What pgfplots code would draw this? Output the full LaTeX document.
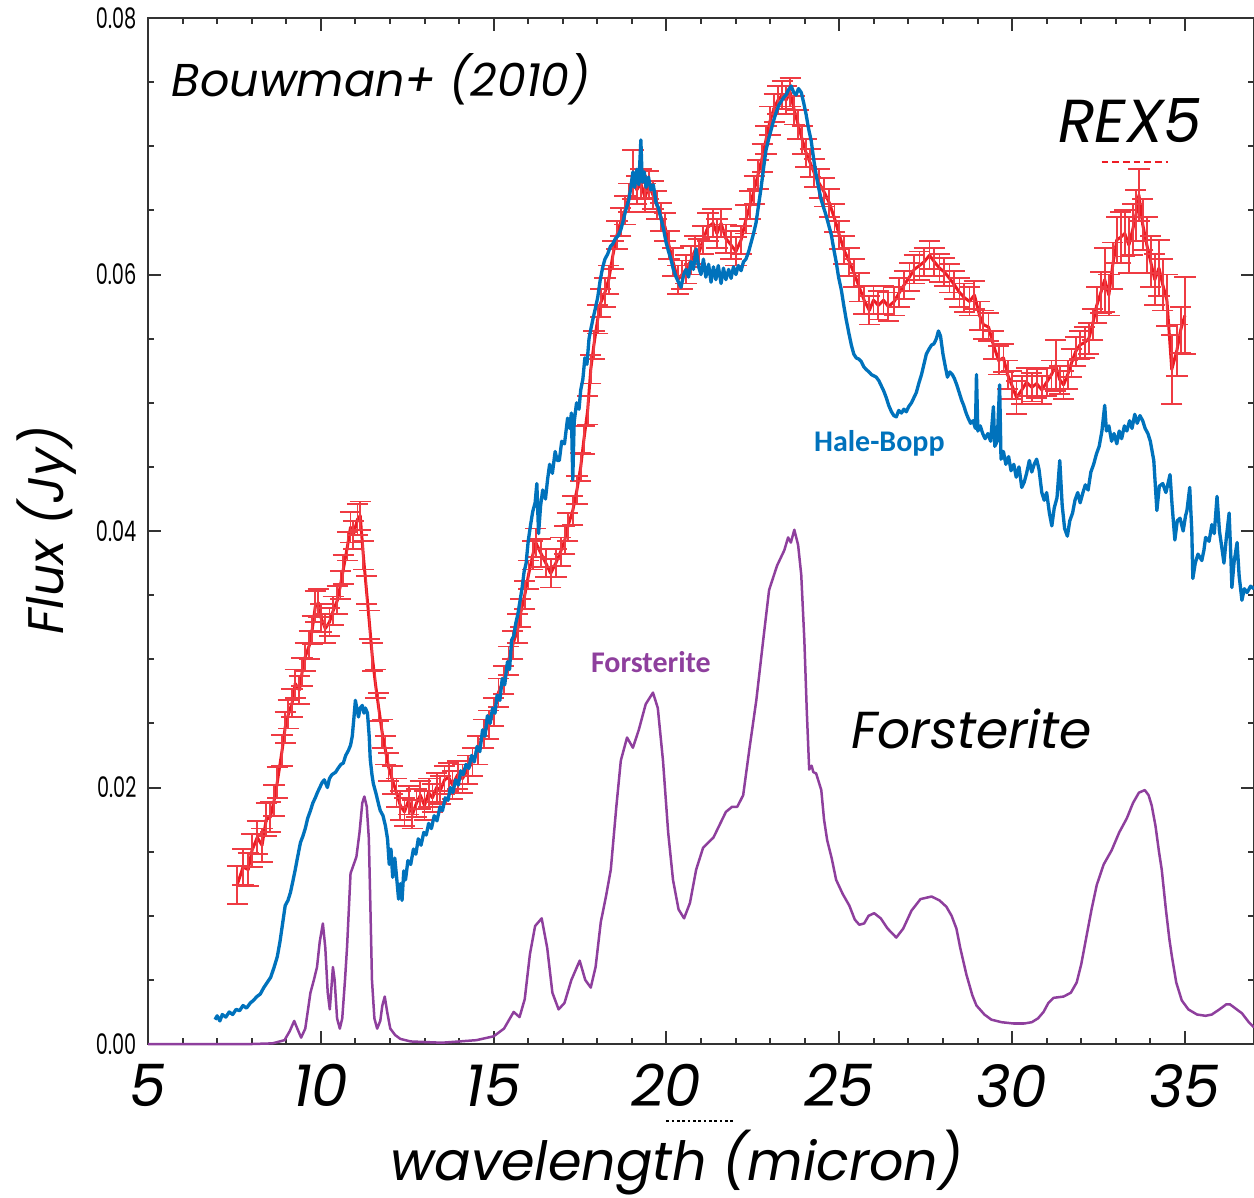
\documentclass[border=0pt]{standalone}
\usepackage{pgfplots}
\usepackage{pgfplotstable}
\pgfplotsset{compat=1.18}
\usepackage{fontspec}
\setmainfont{Poppins}
\newfontfamily\labfont{Carlito}
\definecolor{rexred}{HTML}{ED1C24}
\definecolor{barred}{HTML}{EF3B43}
\definecolor{hbblue}{HTML}{0072BC}
\definecolor{forpurple}{HTML}{8E3F9D}
\definecolor{axisgray}{HTML}{333333}

% REX5 (Spitzer IRS), flux and error
\pgfplotstableread{
x y e
7.58 0.0124 0.0015
7.75 0.0138 0.0014
7.90 0.0136 0.0013
8.01 0.0151 0.0013
8.16 0.0161 0.0013
8.30 0.0155 0.0013
8.42 0.0175 0.0013
8.54 0.0177 0.0012
8.65 0.0190 0.0012
8.74 0.0204 0.0012
8.88 0.0229 0.0012
8.97 0.0247 0.0012
9.06 0.0257 0.0011
9.17 0.0266 0.0011
9.26 0.0281 0.0011
9.38 0.0276 0.0011
9.46 0.0290 0.0011
9.55 0.0302 0.0011
9.67 0.0311 0.0011
9.75 0.0323 0.0011
9.84 0.0341 0.0012
9.93 0.0344 0.0011
10.01 0.0332 0.0011
10.13 0.0324 0.0011
10.25 0.0329 0.0011
10.36 0.0338 0.0011
10.48 0.0346 0.0011
10.57 0.0358 0.0011
10.65 0.0370 0.0011
10.77 0.0388 0.0011
10.86 0.0403 0.0012
10.94 0.0397 0.0011
11.06 0.0409 0.0012
11.14 0.0412 0.0011
11.23 0.0381 0.0011
11.32 0.0354 0.0011
11.41 0.0327 0.0011
11.49 0.0302 0.0011
11.58 0.0281 0.0011
11.67 0.0263 0.0011
11.78 0.0242 0.0011
11.87 0.0229 0.0011
11.96 0.0216 0.0011
12.07 0.0206 0.0011
12.19 0.0196 0.0011
12.30 0.0186 0.0011
12.42 0.0181 0.0011
12.54 0.0190 0.0011
12.65 0.0179 0.0011
12.77 0.0188 0.0011
12.88 0.0194 0.0011
13.00 0.0186 0.0011
13.12 0.0196 0.0011
13.23 0.0192 0.0011
13.35 0.0200 0.0011
13.46 0.0198 0.0011
13.58 0.0206 0.0011
13.70 0.0208 0.0011
13.81 0.0202 0.0011
13.96 0.0210 0.0011
14.10 0.0207 0.0011
14.25 0.0214 0.0011
14.39 0.0220 0.0011
14.54 0.0229 0.0011
14.71 0.0242 0.0011
14.86 0.0249 0.0011
15.00 0.0259 0.0011
15.14 0.0274 0.0011
15.29 0.0284 0.0011
15.43 0.0299 0.0011
15.55 0.0311 0.0011
15.70 0.0324 0.0011
15.78 0.0336 0.0011
15.90 0.0350 0.0011
16.01 0.0366 0.0011
16.13 0.0381 0.0011
16.22 0.0391 0.0011
16.36 0.0383 0.0011
16.51 0.0375 0.0011
16.65 0.0367 0.0011
16.80 0.0375 0.0011
16.94 0.0384 0.0011
17.06 0.0393 0.0011
17.14 0.0403 0.0011
17.29 0.0416 0.0011
17.41 0.0432 0.0011
17.52 0.0450 0.0011
17.61 0.0471 0.0011
17.72 0.0494 0.0011
17.81 0.0526 0.0011
17.90 0.0545 0.0011
18.01 0.0565 0.0011
18.10 0.0578 0.0011
18.22 0.0586 0.0011
18.33 0.0596 0.0011
18.45 0.0615 0.0011
18.57 0.0631 0.0011
18.68 0.0641 0.0011
18.80 0.0650 0.0011
18.91 0.0660 0.0011
19.03 0.0678 0.0019
19.14 0.0666 0.0011
19.26 0.0671 0.0011
19.38 0.0660 0.0011
19.49 0.0670 0.0011
19.61 0.0662 0.0011
19.72 0.0654 0.0011
19.84 0.0645 0.0011
19.96 0.0637 0.0011
20.07 0.0623 0.0011
20.19 0.0610 0.0011
20.33 0.0596 0.0011
20.45 0.0600 0.0011
20.57 0.0604 0.0011
20.71 0.0611 0.0011
20.83 0.0619 0.0011
20.94 0.0617 0.0011
21.06 0.0627 0.0011
21.20 0.0637 0.0011
21.35 0.0640 0.0011
21.46 0.0632 0.0011
21.58 0.0640 0.0011
21.72 0.0628 0.0011
21.87 0.0623 0.0011
22.01 0.0618 0.0011
22.16 0.0627 0.0011
22.30 0.0643 0.0011
22.42 0.0654 0.0011
22.54 0.0666 0.0011
22.65 0.0678 0.0011
22.77 0.0691 0.0011
22.88 0.0705 0.0011
23.00 0.0720 0.0011
23.12 0.0730 0.0011
23.23 0.0736 0.0011
23.35 0.0740 0.0011
23.46 0.0736 0.0011
23.58 0.0742 0.0011
23.70 0.0728 0.0011
23.81 0.0717 0.0011
23.93 0.0705 0.0011
24.04 0.0695 0.0011
24.16 0.0687 0.0011
24.28 0.0679 0.0011
24.42 0.0671 0.0011
24.57 0.0664 0.0011
24.71 0.0656 0.0011
24.86 0.0644 0.0011
25.00 0.0631 0.0011
25.14 0.0619 0.0011
25.29 0.0610 0.0011
25.43 0.0601 0.0011
25.58 0.0590 0.0011
25.72 0.0580 0.0011
25.87 0.0572 0.0011
25.99 0.0580 0.0011
26.13 0.0576 0.0011
26.28 0.0580 0.0011
26.42 0.0575 0.0011
26.59 0.0579 0.0011
26.74 0.0586 0.0011
26.88 0.0592 0.0011
27.03 0.0598 0.0011
27.17 0.0604 0.0011
27.32 0.0607 0.0011
27.46 0.0610 0.0011
27.61 0.0615 0.0011
27.75 0.0610 0.0011
27.90 0.0605 0.0011
28.04 0.0602 0.0011
28.19 0.0597 0.0011
28.33 0.0592 0.0011
28.48 0.0586 0.0011
28.62 0.0582 0.0011
28.77 0.0579 0.0011
28.91 0.0584 0.0011
29.06 0.0568 0.0011
29.17 0.0561 0.0011
29.32 0.0559 0.0011
29.46 0.0545 0.0011
29.61 0.0533 0.0011
29.75 0.0535 0.0011
29.87 0.0522 0.0011
29.99 0.0514 0.0011
30.13 0.0504 0.0013
30.28 0.0510 0.0011
30.42 0.0516 0.0011
30.57 0.0512 0.0011
30.71 0.0515 0.0011
30.86 0.0510 0.0011
31.00 0.0516 0.0011
31.14 0.0522 0.0011
31.26 0.0529 0.0020
31.38 0.0518 0.0011
31.49 0.0514 0.0011
31.61 0.0522 0.0011
31.72 0.0531 0.0011
31.84 0.0540 0.0011
31.96 0.0545 0.0011
32.10 0.0547 0.0012
32.22 0.0550 0.0012
32.33 0.0561 0.0012
32.45 0.0576 0.0014
32.57 0.0586 0.0016
32.68 0.0596 0.0025
32.80 0.0584 0.0016
32.91 0.0607 0.0018
33.03 0.0627 0.0018
33.14 0.0629 0.0020
33.26 0.0632 0.0018
33.38 0.0623 0.0022
33.49 0.0635 0.0020
33.58 0.0646 0.0020
33.67 0.0662 0.0020
33.78 0.0639 0.0020
33.90 0.0623 0.0022
34.01 0.0610 0.0020
34.13 0.0596 0.0020
34.25 0.0605 0.0022
34.36 0.0592 0.0020
34.48 0.0580 0.0020
34.62 0.0526 0.0027
34.77 0.0541 0.0020
34.88 0.0557 0.0018
35.00 0.0568 0.0030
}\rexdata

% Hale-Bopp (ISO SWS)
\pgfplotstableread{
x y
6.94 0.0019
7.00 0.0022
7.08 0.0018
7.15 0.0023
7.25 0.0021
7.35 0.0025
7.45 0.0023
7.55 0.0027
7.65 0.0026
7.75 0.0030
7.85 0.0028
7.96 0.0032
8.05 0.0034
8.15 0.0037
8.25 0.0039
8.35 0.0044
8.45 0.0048
8.55 0.0052
8.65 0.0060
8.74 0.0068
8.82 0.0080
8.90 0.0095
8.97 0.0108
9.05 0.0112
9.12 0.0118
9.20 0.0128
9.26 0.0136
9.33 0.0146
9.41 0.0157
9.48 0.0162
9.55 0.0168
9.62 0.0176
9.70 0.0182
9.77 0.0188
9.84 0.0192
9.90 0.0196
9.97 0.0200
10.04 0.0204
10.10 0.0206
10.19 0.0200
10.25 0.0207
10.32 0.0210
10.43 0.0212
10.50 0.0215
10.58 0.0218
10.65 0.0219
10.72 0.0225
10.80 0.0229
10.86 0.0233
10.91 0.0240
10.96 0.0255
11.00 0.0268
11.04 0.0262
11.09 0.0255
11.14 0.0262
11.20 0.0264
11.25 0.0258
11.29 0.0262
11.35 0.0258
11.40 0.0240
11.43 0.0222
11.48 0.0210
11.52 0.0203
11.60 0.0195
11.68 0.0186
11.72 0.0182
11.80 0.0178
11.87 0.0170
11.93 0.0160
11.98 0.0140
12.03 0.0152
12.08 0.0130
12.14 0.0145
12.20 0.0128
12.25 0.0113
12.30 0.0125
12.35 0.0112
12.40 0.0135
12.45 0.0128
12.52 0.0143
12.60 0.0140
12.68 0.0152
12.75 0.0148
12.82 0.0160
12.90 0.0155
12.98 0.0165
13.05 0.0163
13.12 0.0172
13.20 0.0168
13.28 0.0178
13.36 0.0174
13.45 0.0185
13.52 0.0182
13.60 0.0192
13.68 0.0190
13.75 0.0200
13.82 0.0196
13.90 0.0206
13.98 0.0202
14.05 0.0213
14.12 0.0210
14.20 0.0218
14.28 0.0215
14.36 0.0225
14.44 0.0220
14.52 0.0232
14.60 0.0228
14.68 0.0245
14.75 0.0240
14.82 0.0256
14.90 0.0250
14.97 0.0262
15.04 0.0258
15.10 0.0272
15.18 0.0268
15.25 0.0285
15.32 0.0280
15.40 0.0298
15.46 0.0292
15.52 0.0315
15.58 0.0318
15.64 0.0328
15.70 0.0335
15.76 0.0345
15.82 0.0355
15.88 0.0368
15.94 0.0375
16.00 0.0392
16.07 0.0405
16.13 0.0415
16.20 0.0422
16.25 0.0437
16.30 0.0398
16.36 0.0420
16.42 0.0432
16.50 0.0425
16.56 0.0440
16.62 0.0452
16.70 0.0445
16.78 0.0462
16.84 0.0455
16.90 0.0455
16.97 0.0470
17.05 0.0468
17.14 0.0488
17.20 0.0480
17.25 0.0492
17.29 0.0440
17.33 0.0485
17.40 0.0500
17.47 0.0495
17.52 0.0510
17.58 0.0518
17.64 0.0535
17.70 0.0530
17.76 0.0550
17.81 0.0557
17.87 0.0565
17.93 0.0572
18.01 0.0582
18.08 0.0595
18.15 0.0605
18.22 0.0612
18.30 0.0616
18.38 0.0622
18.45 0.0624
18.52 0.0628
18.60 0.0630
18.68 0.0635
18.75 0.0642
18.82 0.0650
18.91 0.0658
18.97 0.0668
19.03 0.0680
19.08 0.0668
19.14 0.0682
19.20 0.0670
19.26 0.0705
19.30 0.0672
19.36 0.0680
19.41 0.0668
19.48 0.0676
19.55 0.0666
19.62 0.0670
19.70 0.0656
19.77 0.0652
19.84 0.0644
19.92 0.0635
19.99 0.0625
20.06 0.0618
20.13 0.0612
20.20 0.0604
20.28 0.0598
20.35 0.0594
20.42 0.0590
20.50 0.0600
20.57 0.0604
20.64 0.0598
20.71 0.0610
20.78 0.0604
20.86 0.0620
20.93 0.0606
21.00 0.0600
21.07 0.0612
21.14 0.0598
21.22 0.0608
21.29 0.0594
21.36 0.0606
21.43 0.0596
21.50 0.0607
21.58 0.0593
21.65 0.0605
21.72 0.0596
21.80 0.0604
21.87 0.0597
21.94 0.0606
22.01 0.0600
22.08 0.0607
22.16 0.0603
22.23 0.0610
22.30 0.0612
22.38 0.0618
22.45 0.0625
22.52 0.0632
22.59 0.0640
22.67 0.0655
22.74 0.0668
22.81 0.0683
22.88 0.0697
22.96 0.0706
23.03 0.0713
23.10 0.0720
23.17 0.0726
23.25 0.0732
23.32 0.0735
23.39 0.0738
23.46 0.0740
23.53 0.0744
23.61 0.0747
23.68 0.0742
23.75 0.0740
23.82 0.0745
23.90 0.0742
23.97 0.0734
24.04 0.0725
24.11 0.0714
24.19 0.0704
24.26 0.0690
24.33 0.0678
24.40 0.0668
24.48 0.0658
24.55 0.0652
24.62 0.0646
24.70 0.0638
24.77 0.0631
24.84 0.0620
24.91 0.0610
24.98 0.0598
25.06 0.0588
25.13 0.0576
25.20 0.0565
25.28 0.0554
25.35 0.0545
25.42 0.0538
25.49 0.0535
25.57 0.0534
25.64 0.0532
25.71 0.0528
25.78 0.0526
25.86 0.0524
25.93 0.0522
26.00 0.0521
26.07 0.0520
26.15 0.0517
26.22 0.0513
26.29 0.0509
26.36 0.0504
26.43 0.0498
26.51 0.0493
26.58 0.0490
26.65 0.0489
26.72 0.0494
26.80 0.0492
26.87 0.0495
26.94 0.0493
27.01 0.0497
27.09 0.0500
27.16 0.0504
27.23 0.0508
27.30 0.0515
27.38 0.0522
27.45 0.0530
27.52 0.0538
27.60 0.0542
27.67 0.0545
27.74 0.0546
27.81 0.0550
27.87 0.0556
27.93 0.0552
28.00 0.0538
28.07 0.0528
28.13 0.0520
28.20 0.0524
28.27 0.0522
28.33 0.0519
28.40 0.0514
28.47 0.0508
28.54 0.0502
28.60 0.0498
28.67 0.0492
28.73 0.0488
28.80 0.0484
28.87 0.0486
28.94 0.0480
28.97 0.0522
29.01 0.0478
29.08 0.0482
29.15 0.0476
29.22 0.0472
29.30 0.0476
29.38 0.0470
29.46 0.0497
29.50 0.0466
29.57 0.0470
29.64 0.0514
29.68 0.0456
29.75 0.0462
29.82 0.0452
29.90 0.0458
29.97 0.0447
30.05 0.0452
30.12 0.0442
30.20 0.0450
30.28 0.0434
30.35 0.0438
30.42 0.0445
30.50 0.0455
30.57 0.0446
30.64 0.0452
30.71 0.0456
30.78 0.0448
30.86 0.0430
30.93 0.0424
31.00 0.0430
31.08 0.0414
31.15 0.0404
31.22 0.0418
31.30 0.0426
31.38 0.0455
31.45 0.0420
31.52 0.0402
31.60 0.0396
31.67 0.0408
31.75 0.0414
31.82 0.0424
31.90 0.0430
31.97 0.0422
32.05 0.0430
32.12 0.0436
32.20 0.0432
32.28 0.0446
32.36 0.0452
32.44 0.0460
32.52 0.0466
32.60 0.0478
32.68 0.0498
32.73 0.0478
32.80 0.0482
32.88 0.0470
32.95 0.0476
33.03 0.0468
33.10 0.0478
33.17 0.0472
33.25 0.0482
33.32 0.0478
33.40 0.0486
33.47 0.0480
33.55 0.0491
33.62 0.0484
33.70 0.0490
33.78 0.0486
33.85 0.0480
33.93 0.0476
34.00 0.0470
34.10 0.0455
34.19 0.0416
34.26 0.0435
34.36 0.0437
34.45 0.0430
34.52 0.0438
34.57 0.0444
34.63 0.0420
34.71 0.0393
34.78 0.0408
34.86 0.0410
34.95 0.0400
35.02 0.0412
35.06 0.0416
35.14 0.0434
35.20 0.0400
35.23 0.0363
35.30 0.0375
35.38 0.0382
35.49 0.0377
35.55 0.0385
35.60 0.0395
35.70 0.0392
35.78 0.0405
35.85 0.0398
35.93 0.0427
36.00 0.0400
36.08 0.0385
36.13 0.0375
36.20 0.0395
36.28 0.0414
36.33 0.0380
36.36 0.0356
36.42 0.0375
36.51 0.0391
36.57 0.0365
36.65 0.0346
36.72 0.0355
36.80 0.0352
36.90 0.0357
37.00 0.0355
}\hbdata

% forsterite model spectrum
\pgfplotstableread{
x y
5.00 0.0000
8.00 0.0000
8.60 0.00005
8.95 0.0003
9.10 0.0010
9.23 0.0018
9.32 0.0012
9.43 0.0005
9.55 0.0012
9.70 0.0040
9.80 0.0050
9.89 0.0060
9.97 0.0080
10.06 0.0094
10.13 0.0075
10.20 0.0040
10.26 0.0027
10.31 0.0045
10.35 0.0060
10.40 0.0050
10.47 0.0020
10.55 0.0012
10.62 0.0020
10.70 0.0050
10.76 0.0076
10.86 0.0133
11.03 0.0146
11.12 0.0165
11.20 0.0188
11.26 0.0193
11.33 0.0185
11.39 0.0160
11.44 0.0100
11.48 0.0050
11.55 0.0020
11.63 0.0012
11.72 0.0018
11.78 0.0030
11.85 0.0037
11.92 0.0025
12.01 0.0012
12.15 0.0007
12.30 0.0004
12.60 0.0002
13.50 0.0001
14.50 0.0003
15.00 0.0006
15.30 0.0012
15.58 0.0025
15.75 0.0021
15.90 0.0035
16.05 0.0070
16.20 0.0092
16.39 0.0098
16.55 0.0075
16.70 0.0040
16.88 0.0027
17.05 0.0032
17.25 0.0050
17.49 0.0065
17.65 0.0050
17.81 0.0044
17.95 0.0060
18.10 0.0095
18.25 0.0115
18.39 0.0136
18.55 0.0185
18.68 0.0221
18.86 0.0239
19.03 0.0231
19.20 0.0245
19.40 0.0265
19.61 0.0274
19.75 0.0262
19.90 0.0221
20.05 0.0165
20.19 0.0128
20.35 0.0105
20.51 0.0098
20.68 0.0110
20.86 0.0136
21.06 0.0153
21.36 0.0161
21.72 0.0181
21.90 0.0185
22.05 0.0185
22.22 0.0194
22.40 0.0230
22.60 0.0268
22.80 0.0315
22.97 0.0354
23.20 0.0373
23.41 0.0385
23.52 0.0395
23.60 0.0391
23.70 0.0401
23.81 0.0389
23.90 0.0366
23.99 0.0315
24.06 0.0260
24.13 0.0214
24.20 0.0217
24.25 0.0212
24.33 0.0211
24.40 0.0205
24.48 0.0198
24.56 0.0175
24.65 0.0159
24.78 0.0145
24.91 0.0128
25.10 0.0117
25.29 0.0108
25.45 0.0097
25.58 0.0093
25.72 0.0094
25.85 0.0100
26.01 0.0102
26.20 0.0098
26.40 0.0090
26.65 0.0083
26.85 0.0090
27.09 0.0104
27.35 0.0113
27.67 0.0115
27.90 0.0112
28.10 0.0107
28.25 0.0100
28.39 0.0090
28.50 0.0075
28.68 0.0054
28.85 0.0038
28.97 0.0030
29.20 0.0023
29.40 0.0019
29.70 0.0017
30.04 0.0016
30.35 0.0016
30.57 0.0017
30.75 0.0020
30.91 0.0025
31.05 0.0032
31.20 0.0036
31.49 0.0037
31.70 0.0040
31.87 0.0048
32.00 0.0062
32.16 0.0085
32.30 0.0105
32.45 0.0124
32.65 0.0140
32.88 0.0151
33.10 0.0165
33.32 0.0176
33.50 0.0188
33.67 0.0196
33.84 0.0198
33.95 0.0194
34.04 0.0186
34.15 0.0170
34.25 0.0150
34.33 0.0136
34.45 0.0105
34.55 0.0082
34.62 0.0069
34.75 0.0048
34.91 0.0034
35.10 0.0027
35.35 0.0023
35.60 0.0022
35.78 0.0023
36.00 0.0027
36.20 0.0031
36.30 0.0031
36.45 0.0028
36.65 0.0024
36.85 0.0017
37.00 0.0013
}\fordata

\begin{document}
\begin{tikzpicture}
\begin{axis}[
  at={(0,0)}, anchor=south west,
  scale only axis, width=331.8pt, height=307.8pt,
  xmin=5, xmax=37, ymin=0, ymax=0.08,
  clip=false,
  xtick={5,10,15,20,25,30,35},
  ytick={0,0.02,0.04,0.06,0.08},
  minor x tick num=4, minor y tick num=3,
  major tick length=3.9pt, minor tick length=1.8pt,
  every tick/.style={axisgray, line width=0.6pt},
  axis line style={axisgray, line width=0.6pt},
  scaled y ticks=false,
  /pgf/number format/assume math mode=true,
  xticklabel style={font=\fontsize{17.5}{17.5}\selectfont\itshape, anchor=center, yshift=-12.5pt},
  yticklabel={\scalebox{0.68}[1]{\pgfmathprintnumber[fixed,fixed zerofill,precision=2]{\tick}}},
  yticklabel style={font=\fontsize{8.5}{8.5}\selectfont, anchor=east, inner sep=0pt, xshift=-3.3pt},
  xlabel={wavelength (micron)},
  xlabel style={font=\fontsize{16.2}{16.2}\selectfont\itshape, at={(axis description cs:0.478,-0.116)}, anchor=center},
  ylabel={Flux (Jy)},
  ylabel style={font=\fontsize{15}{15}\selectfont\itshape, at={(axis description cs:-0.0913,0.501)}, anchor=center},
]
\addplot[rexred, line width=0.9pt, line join=round, mark=none,
  error bars/.cd, y dir=both, y explicit,
  error bar style={barred, line width=0.55pt},
  error mark options={barred, line width=0.55pt, mark size=3.2pt, rotate=90}]
  table[x=x, y=y, y error=e] {\rexdata};
\addplot[hbblue, line width=1.0pt, line join=round, mark=none] table[x=x, y=y] {\hbdata};
\addplot[forpurple, line width=0.75pt, line join=round, mark=none] table[x=x, y=y] {\fordata};

\node[font=\fontsize{13.8}{13.8}\selectfont\itshape] at (axis cs:11.75,0.0752) {Bouwman+ (2010)};
\node[font=\fontsize{18.2}{18.2}\selectfont\itshape] at (axis cs:33.41,0.0720) {REX5};
\node[font=\fontsize{15.6}{15.6}\selectfont\itshape] at (axis cs:28.83,0.0246) {Forsterite};
\node[font=\labfont\bfseries\fontsize{9}{9}\selectfont, text=hbblue] at (axis cs:26.16,0.0468) {Hale-Bopp};
\node[font=\labfont\bfseries\fontsize{9}{9}\selectfont, text=forpurple] at (axis cs:19.55,0.0298) {Forsterite};
\draw[rexred, dash pattern=on 2pt off 1.2pt, line width=0.7pt] (axis cs:32.59,0.0688) -- (axis cs:34.50,0.0688);
\draw[black, dash pattern=on 0.8pt off 0.8pt, line width=0.5pt] (axis cs:20.0,-0.0060) -- (axis cs:22.0,-0.0060);
\end{axis}
\pgfresetboundingbox
\path[use as bounding box] (-44.4pt,-45.9pt) rectangle (331.8pt,313.2pt);
\end{tikzpicture}
\end{document}
